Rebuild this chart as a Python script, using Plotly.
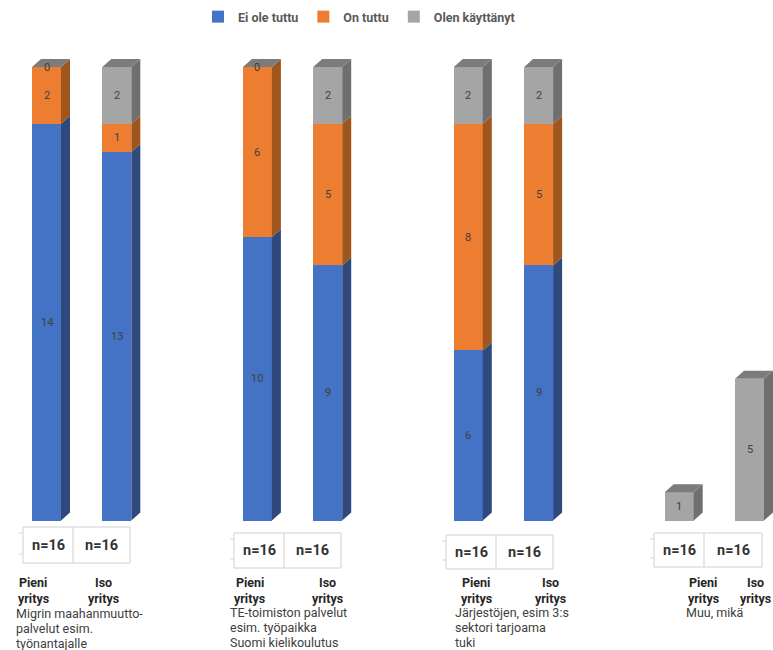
import plotly.graph_objects as go

# ---------------- data ----------------
categories = [
    "Migrin maahanmuutto-<br>palvelut esim.<br>työnantajalle",
    "TE-toimiston palvelut<br>esim. työpaikka<br>Suomi kielikoulutus",
    "Järjestöjen, esim 3:s<br>sektori tarjoama<br>tuki",
    "Muu, mikä",
]
company_sizes = ["Pieni<br>yritys", "Iso<br>yritys"]
series_names = ["Ei ole tuttu", "On tuttu", "Olen käyttänyt"]
ei_ole_tuttu = [14, 13, 10, 9, 6, 9, None, None]
on_tuttu = [2, 1, 6, 5, 8, 5, None, None]
olen_kayttanyt = [0, 2, 0, 2, 2, 2, 1, 5]
n_values = [16, 16, 16, 16, 16, 16, 16, 16]

series_values = [ei_ole_tuttu, on_tuttu, olen_kayttanyt]
front_colors = ["#4472C4", "#ED7D31", "#A5A5A5"]
side_colors = ["#30497C", "#9E561D", "#6F6F6F"]
top_color = "#7C7C7C"

# ---------------- geometry (page pixels) ----------------
W, H = 773, 650
X0_PX, X_STEP = 46.5, 70.3
Y0_PX, Y_UNIT = 520.5, 28.34
bar_w = 29 / X_STEP
dx = 9 / X_STEP
dy = 8 / Y_UNIT

n_bars = len(olen_kayttanyt)
xpos = [3 * (i // 2) + (i % 2) for i in range(n_bars)]


def px(x):
    return x / W


def py(y):
    return 1 - y / H


fig = go.Figure()

# front faces
for name, vals, col in zip(series_names, series_values, front_colors):
    fig.add_trace(go.Bar(
        x=xpos, y=vals, name=name, width=bar_w,
        marker=dict(color=col, line=dict(width=0)),
        hoverinfo="skip",
    ))

# side faces + data labels
cum = [0.0] * n_bars
annotations = []
for k, (vals, scol) in enumerate(zip(series_values, side_colors)):
    sx, sy = [], []
    for i, v in enumerate(vals):
        if v is None:
            continue
        y0 = cum[i]
        y1 = y0 + v
        xr = xpos[i] + bar_w / 2
        if v > 0:
            sx += [xr, xr + dx, xr + dx, xr, xr, None]
            sy += [y0, y0 + dy, y1 + dy, y1, y0, None]
        annotations.append(dict(
            x=xpos[i], y=(y0 + y1) / 2, xref="x", yref="y",
            xanchor="center", yanchor="middle",
            text=str(v), showarrow=False,
            font=dict(family="Roboto", size=11, color="#404040"),
        ))
        cum[i] = y1
    fig.add_trace(go.Scatter(
        x=sx, y=sy, mode="lines", fill="toself", fillcolor=scol,
        line=dict(width=0, color=scol), showlegend=False, hoverinfo="skip",
    ))

# top faces
tx, ty = [], []
for i in range(n_bars):
    T = cum[i]
    xl = xpos[i] - bar_w / 2
    xr = xpos[i] + bar_w / 2
    tx += [xl, xl + dx, xr + dx, xr, xl, None]
    ty += [T, T + dy, T + dy, T, T, None]
fig.add_trace(go.Scatter(
    x=tx, y=ty, mode="lines", fill="toself", fillcolor=top_color,
    line=dict(width=0, color=top_color), showlegend=False, hoverinfo="skip",
))

# ---------------- n tables & labels ----------------
tables = [(23, 130, 527, 563), (234, 341, 533, 568), (446, 553, 535, 569), (654, 762, 533, 567)]
size_centers = [(33, 103), (250, 327), (476, 550), (703, 755)]
cat_pos = [(14, 613), (228, 612), (453, 612), (684, 612)]
size_y0, size_dy = 582, 16
cat_dy = 15.3
shapes = []
for g, (l, r, t, b) in enumerate(tables):
    mid = l + 50
    shapes.append(dict(type="rect", xref="paper", yref="paper",
                       x0=px(l), x1=px(r), y0=py(b), y1=py(t),
                       line=dict(color="#D0D0D0", width=1), fillcolor="white"))
    shapes.append(dict(type="line", xref="paper", yref="paper",
                       x0=px(mid), x1=px(mid), y0=py(b), y1=py(t),
                       line=dict(color="#D0D0D0", width=1)))
    for yy in (t + 6, b - 9):
        shapes.append(dict(type="line", xref="paper", yref="paper",
                           x0=px(l - 4), x1=px(l), y0=py(yy), y1=py(yy),
                           line=dict(color="#D8D8D8", width=1)))
    for j, (cx0, cx1) in enumerate([(l, mid), (mid, r)]):
        annotations.append(dict(
            x=px((cx0 + cx1) / 2), y=py((t + b) / 2), xref="paper", yref="paper",
            xanchor="center", yanchor="middle",
            text="<b>n=%d</b>" % n_values[2 * g + j], showarrow=False,
            font=dict(family="Roboto", size=14.5, color="#333333"),
        ))
        for m, line in enumerate(company_sizes[j].split("<br>")):
            annotations.append(dict(
                x=px(size_centers[g][j]), y=py(size_y0 + m * size_dy),
                xref="paper", yref="paper",
                xanchor="center", yanchor="middle",
                text="<b>%s</b>" % line, showarrow=False,
                font=dict(family="Roboto", size=12.5, color="#262626"),
            ))
    for m, line in enumerate(categories[g].split("<br>")):
        annotations.append(dict(
            x=px(cat_pos[g][0]), y=py(cat_pos[g][1] + m * cat_dy),
            xref="paper", yref="paper",
            xanchor="left", yanchor="middle",
            text=line, showarrow=False,
            font=dict(family="Roboto", size=12.5, color="#404040"),
        ))

fig.update_layout(
    width=W, height=H, barmode="stack",
    margin=dict(l=0, r=0, t=0, b=0),
    paper_bgcolor="white", plot_bgcolor="white",
    xaxis=dict(visible=False, range=[-X0_PX / X_STEP, (W - X0_PX) / X_STEP]),
    yaxis=dict(visible=False, range=[-(H - Y0_PX) / Y_UNIT, Y0_PX / Y_UNIT]),
    legend=dict(orientation="h", x=px(359), xanchor="center", y=py(17), yanchor="middle",
                traceorder="normal",
                font=dict(family="Roboto", size=12.5, color="#595959", weight="bold"),
                itemwidth=30, bgcolor="rgba(0,0,0,0)"),
    shapes=shapes, annotations=annotations,
)

fig.write_html(
    "out.html",
    config={"displayModeBar": False},
    post_script="document.body.style.margin='0';document.body.style.overflow='hidden';",
)
